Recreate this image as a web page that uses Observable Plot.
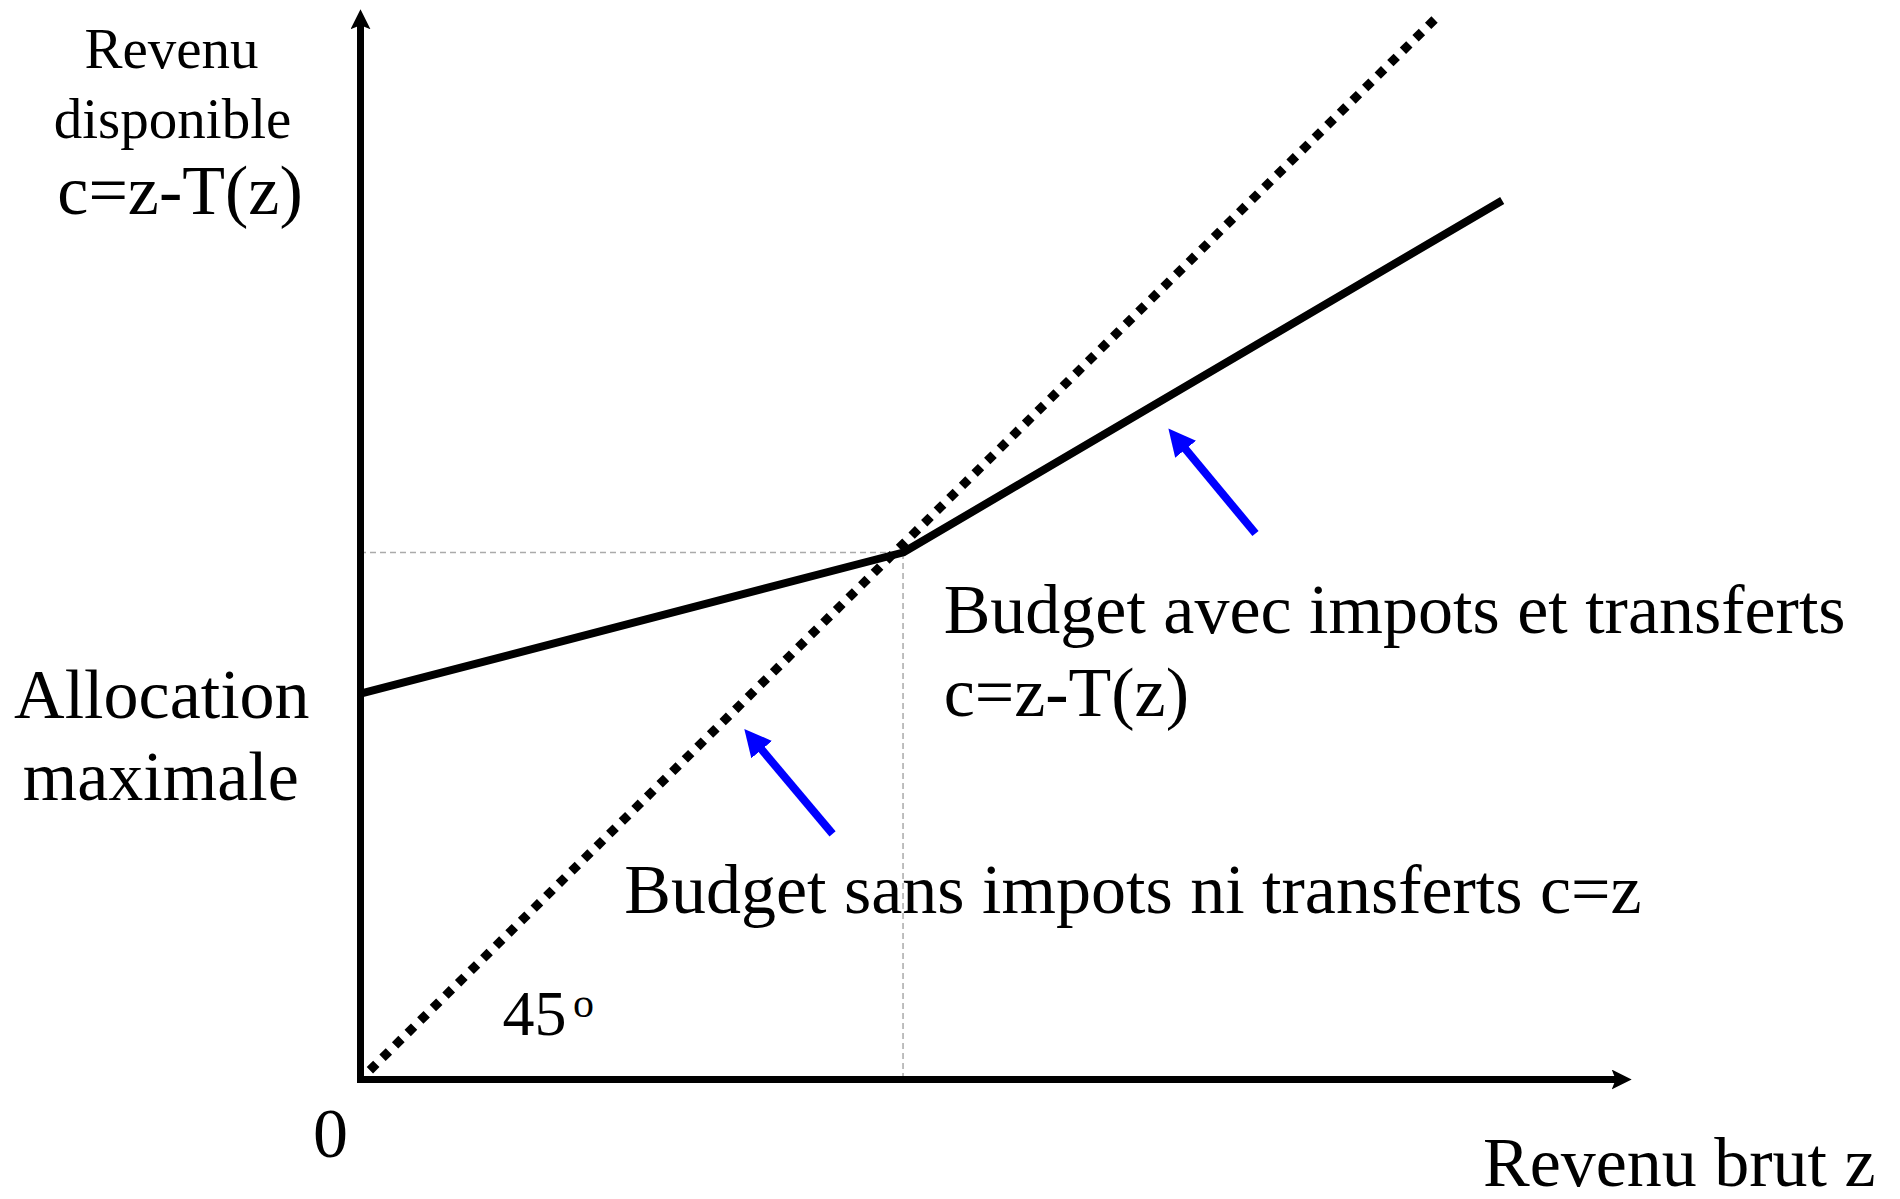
<!DOCTYPE html>
<html><head><meta charset="utf-8">
<script src="https://cdn.jsdelivr.net/npm/d3@7"></script>
<script src="https://cdn.jsdelivr.net/npm/@observablehq/plot@0.6"></script>
<style>html,body{margin:0;padding:0;background:#fff;}</style>
</head><body><div id="chart"></div>
<script>
// Budget with taxes and transfers (z = gross income, c = disposable income)
const budgetZ = [0, 50.8, 106.9];
const budgetC = [36.6, 50.0, 83.4];
// Budget without taxes: 45-degree line c = z
const noTaxZ = [0, 101];
const noTaxC = [0, 101];
// kink point
const kinkZ = [50.8];
const kinkC = [50.0];
// axis extents
const axisZmax = 117.9;
const axisCmax = 100.4;
// blue pointer arrows
const pointerFromZ = [83.8, 44.2];
const pointerFromC = [51.8, 23.3];
const pointerToZ = [76.6, 36.9];
const pointerToC = [60.6, 32.1];
// text labels and their anchor points (data units)
const yTitleLines = ["Revenu", "disponible"];
const yTitleZ = [-17.7, -17.6];
const yTitleC = [96.0, 89.3];
const bigLabels = ["c=z-T(z)", "Allocation", "maximale", "0"];
const bigLabelZ = [-16.9, -18.6, -18.7, -2.8];
const bigLabelC = [82.1, 34.3, 26.5, -7.4];
const noteLabels = ["Budget avec impots et transferts", "c=z-T(z)", "Budget sans impots ni transferts c=z", "Revenu brut z"];
const noteZ = [54.6, 54.6, 24.7, 105.1];
const noteC = [42.4, 34.5, 15.8, -10.1];
const angleLabel = ["45"];
const angleZ = [13.3];
const angleC = [4.2];
const degreeLabel = ["o"];
const degreeZ = [19.9];
const degreeC = [5.9];

const axesData = [
  {x1: 0, y1: 0, x2: 0, y2: axisCmax},
  {x1: 0, y1: 0, x2: axisZmax, y2: 0}
];
const pointers = pointerFromZ.map((z, i) => ({x1: z, y1: pointerFromC[i], x2: pointerToZ[i], y2: pointerToC[i]}));
const idx = a => d3.range(a.length);
const serif = "Liberation Serif, Times New Roman, serif";

const plot = Plot.plot({
  width: 1900,
  height: 1199,
  x: {domain: [0, 100], range: [360, 1428], axis: null},
  y: {domain: [0, 100], range: [1079, 25], axis: null},
  style: {background: "white", overflow: "visible"},
  marks: [
    Plot.ruleY(kinkC, {x1: 0, x2: kinkZ[0], stroke: "#aaaaaa", strokeWidth: 1.5, strokeDasharray: "6,4"}),
    Plot.ruleX(kinkZ, {y1: 0, y2: kinkC[0], stroke: "#aaaaaa", strokeWidth: 1.5, strokeDasharray: "6,4"}),
    Plot.line(idx(noTaxZ), {x: i => noTaxZ[i], y: i => noTaxC[i], stroke: "black", strokeWidth: 9, strokeDasharray: "9,8.7", strokeDashoffset: 4.5, strokeLinecap: "butt"}),
    Plot.line(idx(budgetZ), {x: i => budgetZ[i], y: i => budgetC[i], stroke: "black", strokeWidth: 8, strokeLinejoin: "miter", strokeLinecap: "butt"}),
    Plot.link(axesData, {x1: "x1", y1: "y1", x2: "x2", y2: "y2", stroke: "black", strokeWidth: 7, strokeLinecap: "square", ariaDescription: "axis-arrow"}),
    Plot.link(pointers, {x1: "x1", y1: "y1", x2: "x2", y2: "y2", stroke: "#0000ff", strokeWidth: 8, strokeLinecap: "butt", ariaDescription: "blue-arrow"}),
    Plot.text(idx(yTitleLines), {x: i => yTitleZ[i], y: i => yTitleC[i], text: i => yTitleLines[i], fontFamily: serif, fontSize: 57, fill: "black", textAnchor: "middle", lineAnchor: "bottom"}),
    Plot.text(idx(bigLabels), {x: i => bigLabelZ[i], y: i => bigLabelC[i], text: i => bigLabels[i], fontFamily: serif, fontSize: 70, fill: "black", textAnchor: "middle", lineAnchor: "bottom"}),
    Plot.text(idx(noteLabels), {x: i => noteZ[i], y: i => noteC[i], text: i => noteLabels[i], fontFamily: serif, fontSize: 70, fill: "black", textAnchor: "start", lineAnchor: "bottom"}),
    Plot.text(idx(angleLabel), {x: i => angleZ[i], y: i => angleC[i], text: i => angleLabel[i], fontFamily: serif, fontSize: 64, fill: "black", textAnchor: "start", lineAnchor: "bottom"}),
    Plot.text(idx(degreeLabel), {x: i => degreeZ[i], y: i => degreeC[i], text: i => degreeLabel[i], fontFamily: serif, fontSize: 42, fill: "black", textAnchor: "start", lineAnchor: "bottom"})
  ]
});

// filled arrowheads as SVG markers attached to the link marks
const svg = d3.select(plot);
const defs = svg.insert("defs", ":first-child");
defs.append("marker")
  .attr("id", "headBlack").attr("viewBox", "0 0 20 20").attr("refX", 8).attr("refY", 10)
  .attr("markerWidth", 20).attr("markerHeight", 20).attr("markerUnits", "userSpaceOnUse").attr("orient", "auto")
  .append("path").attr("d", "M0,0 L20,10 L0,20 L4,10 Z").attr("fill", "black").attr("stroke", "none");
defs.append("marker")
  .attr("id", "headBlue").attr("viewBox", "0 0 27 27").attr("refX", 11).attr("refY", 13.5)
  .attr("markerWidth", 27).attr("markerHeight", 27).attr("markerUnits", "userSpaceOnUse").attr("orient", "auto")
  .append("path").attr("d", "M0,0 L27,13.5 L0,27 Z").attr("fill", "#0000ff").attr("stroke", "none");
svg.selectAll('g[aria-description="axis-arrow"] path').attr("marker-end", "url(#headBlack)");
svg.selectAll('g[aria-description="blue-arrow"] path').attr("marker-end", "url(#headBlue)");

document.getElementById("chart").appendChild(plot);
</script>
</body></html>
